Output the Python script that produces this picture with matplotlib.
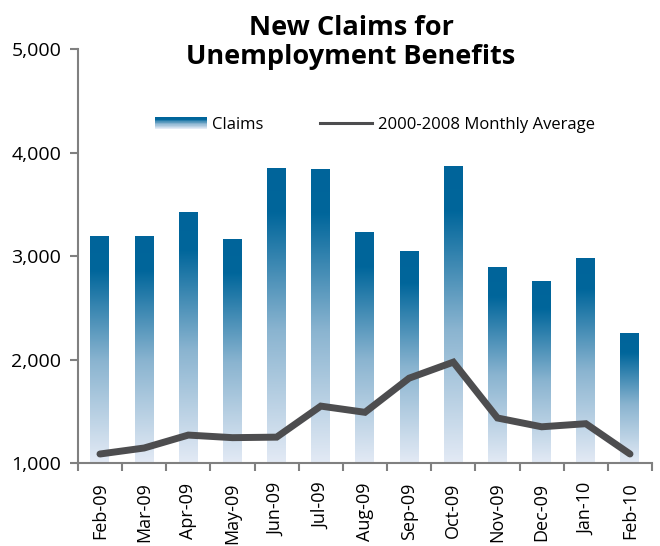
import numpy as np
import matplotlib
matplotlib.use("Agg")
import matplotlib.pyplot as plt
import matplotlib.patches as mpatches
from matplotlib.colors import LinearSegmentedColormap
from matplotlib.legend_handler import HandlerBase
from matplotlib.lines import Line2D

months = ["Feb-09", "Mar-09", "Apr-09", "May-09", "Jun-09", "Jul-09", "Aug-09",
          "Sep-09", "Oct-09", "Nov-09", "Dec-09", "Jan-10", "Feb-10"]
claims = [3190, 3190, 3420, 3160, 3850, 3840, 3230, 3040, 3870, 2885, 2750, 2980, 2256]
monthly_avg = [1087, 1145, 1270, 1245, 1250, 1550, 1490, 1820, 1975, 1435, 1350, 1380, 1087]
yticks = [1000, 2000, 3000, 4000, 5000]

plt.rcParams['font.family'] = ['Open Sans', 'DejaVu Sans']

blue = LinearSegmentedColormap.from_list(
    "claims", [(0.0, "#e3eaf5"), (0.45, "#8ab4d0"), (0.85, "#00669b"), (1.0, "#00649a")])
grad = np.linspace(0, 1, 256).reshape(-1, 1)

fig = plt.figure(figsize=(6.6, 5.46), dpi=100)
ax = fig.add_axes([0.118, 0.152, 0.870, 0.758])

x = np.arange(len(months))
width = 0.43
ybase = 1000
for xi, v in zip(x, claims):
    ax.imshow(grad, cmap=blue, aspect='auto', origin='lower',
              extent=(xi - width / 2, xi + width / 2, ybase, v), zorder=2)

ax.plot(x, monthly_avg, color="#4d4d4f", lw=5, solid_capstyle='round',
        solid_joinstyle='miter', zorder=3)

ax.set_xlim(-0.5, len(months) - 0.5)
ax.set_ylim(1000, 5000)
ax.set_yticks(yticks)
ax.set_yticklabels([f"{t:,}" for t in yticks], fontsize=14)
ax.set_xticks(x)
ax.set_xticklabels(months, rotation=90, fontsize=13)
ax.tick_params(axis='x', length=0, pad=14)
ax.set_xticks(np.arange(len(months) + 1) - 0.5, minor=True)
ax.tick_params(axis='x', which='minor', length=6, color="#808080", width=1.5, direction='out')
ax.tick_params(axis='y', length=6, color="#808080", width=1.5, direction='out', pad=6)
for side in ('top', 'right'):
    ax.spines[side].set_visible(False)
for side in ('left', 'bottom'):
    ax.spines[side].set_color("#808080")
    ax.spines[side].set_linewidth(1.5)


class GradientHandler(HandlerBase):
    def create_artists(self, legend, orig_handle, xdescent, ydescent,
                       width, height, fontsize, trans):
        n = 20
        artists = []
        for i in range(n):
            r = mpatches.Rectangle((-xdescent, -ydescent + height * i / n),
                                   width, height / n + 0.2,
                                   facecolor=blue(i / (n - 1)), edgecolor='none',
                                   transform=trans)
            artists.append(r)
        return artists


claims_handle = mpatches.Patch(label="Claims")
avg_handle = Line2D([], [], color="#4d4d4f", lw=2.2, label="2000-2008 Monthly Average")
ax.legend(handles=[claims_handle, avg_handle],
          handler_map={mpatches.Patch: GradientHandler()},
          loc='center', bbox_to_anchor=(0.568, 0.771), bbox_transform=fig.transFigure,
          ncol=2, frameon=False, fontsize=12, handlelength=3.1, handleheight=0.7,
          columnspacing=3.4, handletextpad=0.35)

fig.text(0.532, 0.922, "New Claims for\nUnemployment Benefits", ha='center', va='center',
         fontsize=19.5, fontweight='bold', linespacing=1.12)

fig.savefig("out.png", dpi=100)
